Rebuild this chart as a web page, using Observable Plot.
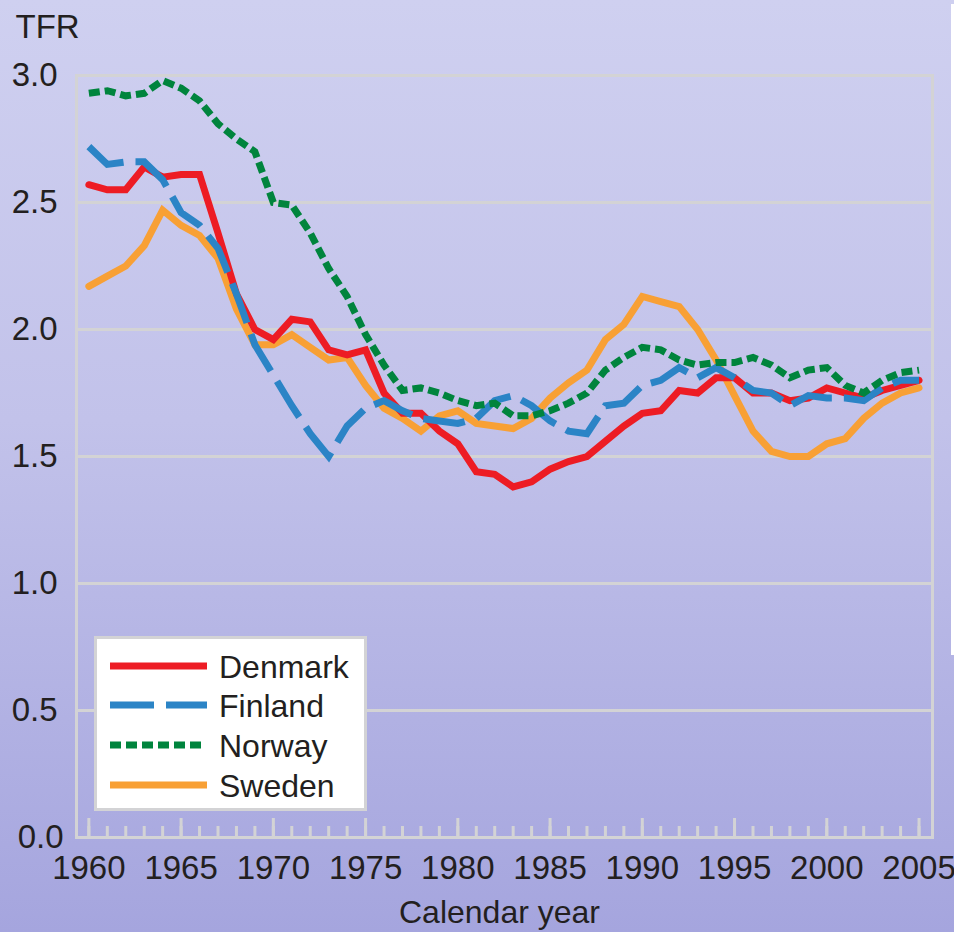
<!DOCTYPE html>
<html>
<head>
<meta charset="utf-8">
<script src="https://cdn.jsdelivr.net/npm/d3@7"></script>
<script src="https://cdn.jsdelivr.net/npm/@observablehq/plot@0.6"></script>
<style>
  html, body { margin: 0; padding: 0; }
  body { width: 954px; height: 932px; overflow: hidden; font-family: "Liberation Sans", Arial, sans-serif; }
  #wrap { position: relative; width: 954px; height: 932px;
          background: linear-gradient(to bottom, #cfd0f0 0%, #c2c2ea 45%, #a5a5de 100%); }
  #chart { position: absolute; left: 0; top: 0; }
  #legend { position: absolute; left: 94px; top: 636px; }
  #sliver { position: absolute; left: 951px; top: 4px; width: 3px; height: 651px; background: #ffffff; }
</style>
</head>
<body>
<div id="wrap">
  <div id="chart"></div>
  <svg id="legend" width="273" height="175"></svg>
  <div id="sliver"></div>
</div>
<script>
// ---- data ----
const years = [1960,1961,1962,1963,1964,1965,1966,1967,1968,1969,
               1970,1971,1972,1973,1974,1975,1976,1977,1978,1979,
               1980,1981,1982,1983,1984,1985,1986,1987,1988,1989,
               1990,1991,1992,1993,1994,1995,1996,1997,1998,1999,
               2000,2001,2002,2003,2004,2005];
const majorYears = [1960,1965,1970,1975,1980,1985,1990,1995,2000,2005];
const yTicks = [0.0,0.5,1.0,1.5,2.0,2.5,3.0];
const yTicksUpper = [0.5,1.0,1.5,2.0,2.5,3.0];
const yTicksZero = [0.0];

const denmark = [2.57,2.55,2.55,2.64,2.60,2.61,2.61,2.38,2.14,2.00,
                 1.96,2.04,2.03,1.92,1.90,1.92,1.75,1.67,1.67,1.60,
                 1.55,1.44,1.43,1.38,1.40,1.45,1.48,1.50,1.56,1.62,
                 1.67,1.68,1.76,1.75,1.81,1.81,1.75,1.75,1.72,1.73,
                 1.77,1.75,1.73,1.76,1.78,1.80];
const finland = [2.72,2.65,2.66,2.66,2.59,2.46,2.41,2.32,2.14,1.94,
                 1.82,1.70,1.59,1.50,1.62,1.69,1.72,1.68,1.65,1.64,
                 1.63,1.65,1.72,1.74,1.70,1.64,1.60,1.59,1.70,1.71,
                 1.78,1.80,1.85,1.81,1.85,1.81,1.76,1.75,1.70,1.74,
                 1.73,1.73,1.72,1.77,1.80,1.80];
const norway  = [2.93,2.94,2.92,2.93,2.98,2.95,2.90,2.81,2.75,2.70,
                 2.50,2.49,2.38,2.24,2.13,1.98,1.86,1.76,1.77,1.75,
                 1.72,1.70,1.71,1.66,1.66,1.68,1.71,1.75,1.84,1.89,
                 1.93,1.92,1.88,1.86,1.87,1.87,1.89,1.86,1.81,1.84,
                 1.85,1.78,1.75,1.80,1.83,1.84];
const sweden  = [2.17,2.21,2.25,2.33,2.47,2.41,2.37,2.28,2.08,1.94,
                 1.94,1.98,1.93,1.88,1.89,1.78,1.69,1.65,1.60,1.66,
                 1.68,1.63,1.62,1.61,1.65,1.73,1.79,1.84,1.96,2.02,
                 2.13,2.11,2.09,2.00,1.88,1.74,1.60,1.52,1.50,1.50,
                 1.55,1.57,1.65,1.71,1.75,1.77];

const countries = ["Denmark","Finland","Norway","Sweden"];
const seriesValues = {Denmark: denmark, Finland: finland, Norway: norway, Sweden: sweden};
const colors = {Denmark: "#ed1c24", Finland: "#2b84c6", Norway: "#00843d", Sweden: "#f8a035"};
const dashes = {Denmark: null, Finland: "42,12", Norway: "11,5", Sweden: null};

const rows = c => years.map((yr, i) => ({year: yr, tfr: seriesValues[c][i], country: c}));

const grid = "#d3d3d5";
const ink = "#231f20";

function lineMark(c) {
  const solid = dashes[c] == null;
  return Plot.line(rows(c), {
    x: "year", y: "tfr",
    stroke: colors[c], strokeWidth: 7,
    strokeDasharray: solid ? undefined : dashes[c],
    strokeLinejoin: "miter", strokeMiterlimit: 4,
    strokeLinecap: solid ? "round" : "butt"
  });
}

const chart = Plot.plot({
  width: 954, height: 932,
  marginLeft: 76, marginRight: 22, marginTop: 75, marginBottom: 95,
  x: {domain: [1959.33, 2005.73]},
  y: {domain: [0, 3]},
  style: {background: "transparent", fontFamily: "'Liberation Sans', Arial, sans-serif",
          fontSize: "33px", color: ink, overflow: "visible"},
  marks: [
    Plot.ruleY(yTicks, {stroke: grid, strokeWidth: 3}),
    Plot.frame({stroke: grid, strokeWidth: 3}),
    Plot.ruleX(years, {stroke: grid, strokeWidth: 3, insetTop: 751}),
    Plot.ruleX(majorYears, {stroke: grid, strokeWidth: 3, insetTop: 743}),
    Plot.axisY({ticks: yTicksUpper, tickSize: 0, tickPadding: 19, tickFormat: d3.format(".1f"), label: null, fill: ink}),
    Plot.axisY({ticks: yTicksZero, tickSize: 0, tickPadding: 13, tickFormat: d3.format(".1f"), label: null, fill: ink}),
    Plot.axisX({ticks: majorYears, tickSize: 0, tickPadding: 18, tickFormat: d3.format("d"), label: null, fill: ink}),
    lineMark("Sweden"),
    lineMark("Denmark"),
    lineMark("Finland"),
    lineMark("Norway"),
    Plot.text(["TFR"], {frameAnchor: "top-left", textAnchor: "start", lineAnchor: "bottom",
                        dx: -61, dy: -38, fontSize: 33, fill: ink}),
    Plot.text(["Calendar year"], {frameAnchor: "bottom", lineAnchor: "bottom",
                        dx: -5, dy: 85, fontSize: 32, fill: ink})
  ]
});
document.getElementById("chart").appendChild(chart);

// ---- legend ----
const lg = d3.select("#legend");
lg.append("rect").attr("x", 1.5).attr("y", 1.5).attr("width", 270).attr("height", 172)
  .attr("fill", "#ffffff").attr("stroke", grid).attr("stroke-width", 3);
const rowY = [30, 69, 109, 149];
countries.forEach((c, i) => {
  const solid = dashes[c] == null;
  lg.append("line")
    .attr("x1", 16).attr("x2", c === "Norway" ? 107 : 113)
    .attr("y1", rowY[i]).attr("y2", rowY[i])
    .attr("stroke", colors[c]).attr("stroke-width", 7)
    .attr("stroke-dasharray", solid ? null : (c === "Finland" ? "44,12" : "11,5"));
  lg.append("text")
    .attr("x", 125).attr("y", rowY[i] + 12)
    .attr("font-family", "'Liberation Sans', Arial, sans-serif")
    .attr("font-size", 32).attr("fill", ink)
    .text(c);
});
</script>
</body>
</html>
